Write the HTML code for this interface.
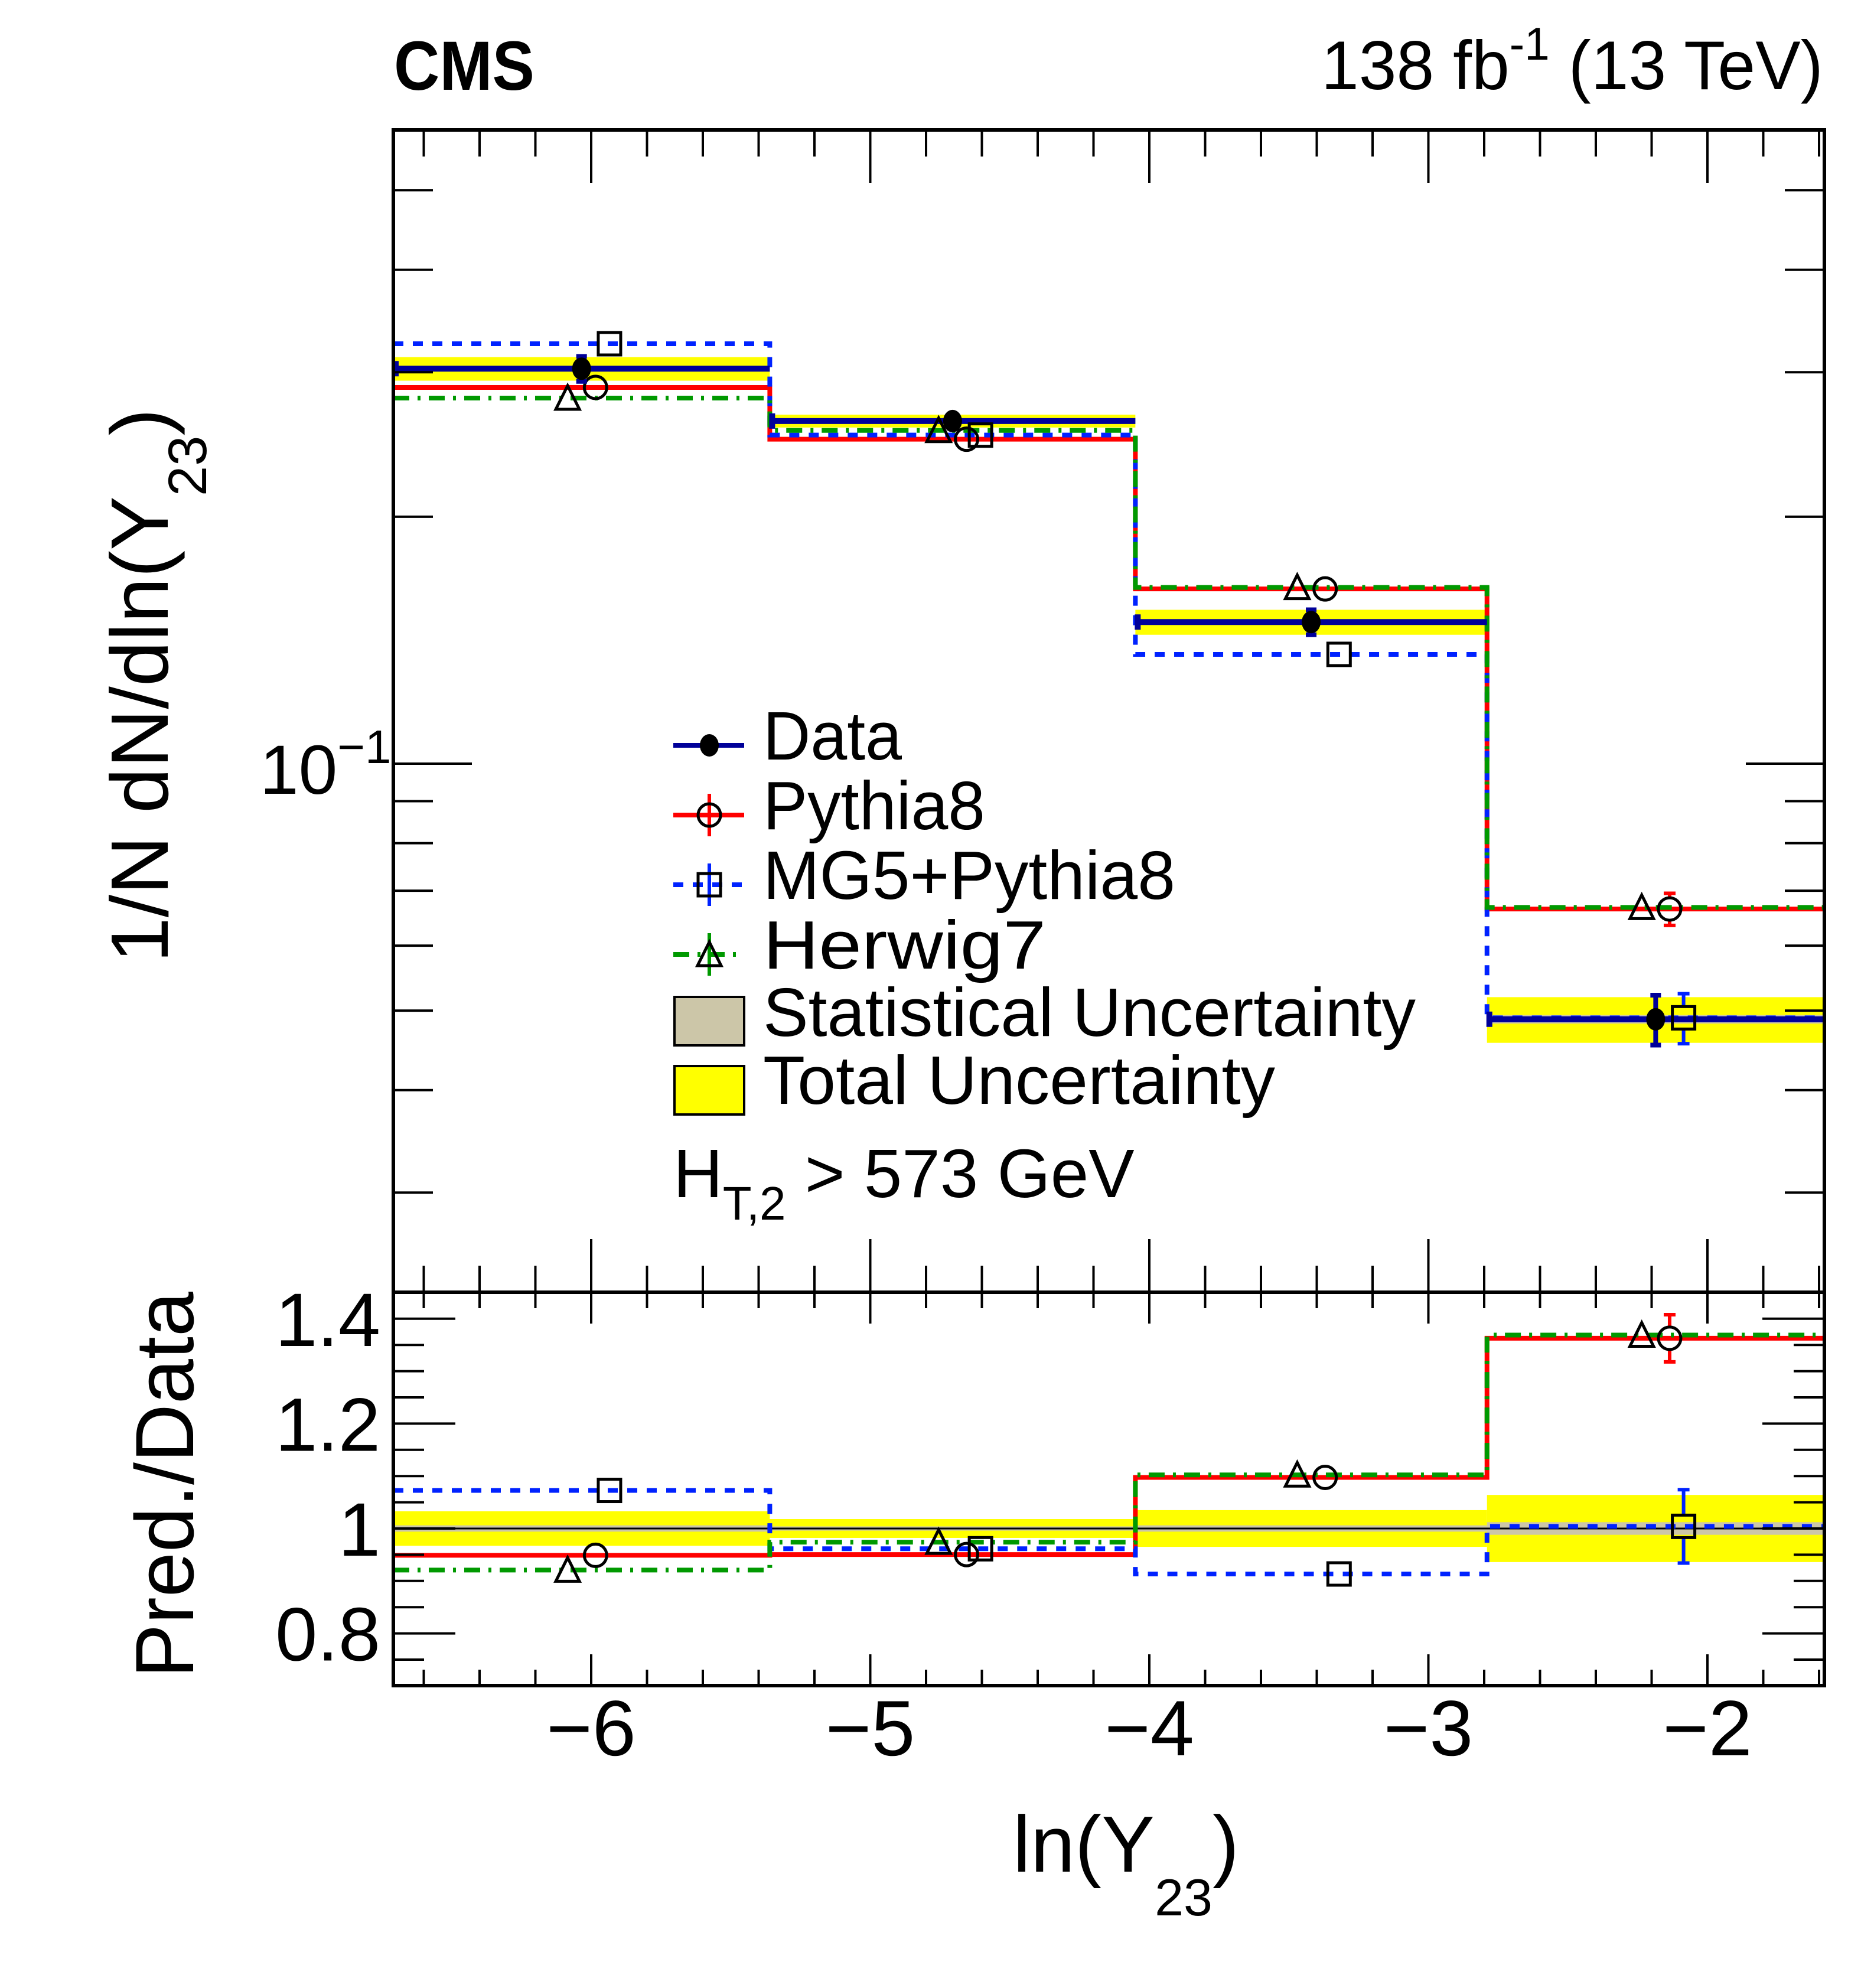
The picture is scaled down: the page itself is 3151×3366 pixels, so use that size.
<!DOCTYPE html>
<html><head><meta charset="utf-8">
<style>
html,body{margin:0;padding:0;background:#fff;}
svg{display:block;font-family:"Liberation Sans",Arial,sans-serif;}
</style></head>
<body>
<svg id="chart" xmlns="http://www.w3.org/2000/svg" width="3151" height="3366" viewBox="0 0 3151 3366">
<rect x="0" y="0" width="3151" height="3366" fill="#fff"/>
<g id="bands"></g>
<g id="series"></g>
<g id="axes"></g>
<text x="667" y="152" font-size="118" font-weight="bold" textLength="238" lengthAdjust="spacingAndGlyphs">CMS</text>
<text transform="translate(2237,151) scale(0.98,1)" font-size="117"><tspan>138 fb</tspan><tspan dy="-50" font-size="78">-1</tspan><tspan dy="50"> (13 TeV)</tspan></text>
<text transform="translate(284,1630) rotate(-90)" font-size="138"><tspan>1/N dN/dln(Y</tspan><tspan dy="65" font-size="92">23</tspan><tspan dy="-65">)</tspan></text>
<text transform="translate(327,2841) rotate(-90)" font-size="140" textLength="654" lengthAdjust="spacingAndGlyphs">Pred./Data</text>
<text x="1715" y="3169" font-size="135"><tspan>ln(Y</tspan><tspan dy="74" font-size="88">23</tspan><tspan dy="-74">)</tspan></text>
<g id="legend"></g>
</svg>
<script>
// ---- data ----
const binEdges = [-6.709, -5.36, -4.05, -2.79, -1.581];
const dataValues = [0.303, 0.2616, 0.1488, 0.0488];
const dataRelErr = [0.035, 0.02, 0.035, 0.07];
const totalRelUnc = [0.033, 0.018, 0.035, 0.064];
const statRelUnc = [0.006, 0.004, 0.006, 0.012];
const pythiaValues = [0.2875, 0.2486, 0.1633, 0.0665];
const pythiaRelErr = [0.012, 0.008, 0.012, 0.045];
const mgValues = [0.325, 0.2515, 0.1359, 0.049];
const mgRelErr = [0.008, 0.006, 0.012, 0.07];
const herwigValues = [0.279, 0.2548, 0.1640, 0.0668];
const herwigRelErr = [0.005, 0.004, 0.006, 0.01];
const xMajorTicks = [-6, -5, -4, -3, -2];
const xTickLabels = ["\u22126", "\u22125", "\u22124", "\u22123", "\u22122"];
const ratioTicks = [0.8, 1.0, 1.2, 1.4];
const mainMinorTicks = [0.03, 0.04, 0.05, 0.06, 0.07, 0.08, 0.09, 0.2, 0.3, 0.4, 0.5];

// ---- geometry ----
const L = 666, R = 3089, T = 220, D = 2188, B = 2854;
function X(v){ return 1001 + (v + 6) * 472.5; }
function Y(v){ return 1293 - Math.log10(v / 0.1) * 1389; }
function RY(v){ return 2588 - (v - 1) * 888; }
const NS = "http://www.w3.org/2000/svg";
function mk(parent, tag, attrs){ const e = document.createElementNS(NS, tag); for (const k in attrs) e.setAttribute(k, attrs[k]); parent.appendChild(e); return e; }
const gB = document.getElementById("bands"), gS = document.getElementById("series"), gA = document.getElementById("axes"), gL = document.getElementById("legend");

const models = [
  {name:"pythia8", vals:pythiaValues, err:pythiaRelErr, color:"#ff0000", dash:"", off:0.05, marker:"circle"},
  {name:"mg5-pythia8", vals:mgValues, err:mgRelErr, color:"#0022ff", dash:"17 16", off:0.10, marker:"square"},
  {name:"herwig7", vals:herwigValues, err:herwigRelErr, color:"#009900", dash:"27 14 5 14", off:-0.05, marker:"triangle"}
];

function drawMarker(parent, type, cx, cy, label){
  let e;
  if (type === "circle") e = mk(parent, "circle", {cx:cx, cy:cy, r:19, fill:"none", stroke:"#000", "stroke-width":5});
  else if (type === "square") e = mk(parent, "rect", {x:cx-19, y:cy-19, width:38, height:38, fill:"none", stroke:"#000", "stroke-width":5});
  else if (type === "triangle") e = mk(parent, "polygon", {points:(cx-20)+","+(cy+19)+" "+(cx+20)+","+(cy+19)+" "+cx+","+(cy-21), fill:"none", stroke:"#000", "stroke-width":5});
  else e = mk(parent, "ellipse", {cx:cx, cy:cy, rx:16, ry:19, fill:"#000"});
  
  
  return e;
}

// ---- bands ----
for (let i = 0; i < dataValues.length; i++){
  const x0 = X(binEdges[i]), x1 = X(binEdges[i+1]);
  const d = dataValues[i];
  let r = mk(gB, "rect", {x:x0, y:Y(d*(1+totalRelUnc[i])), width:x1-x0, height:Y(d*(1-totalRelUnc[i]))-Y(d*(1+totalRelUnc[i])), fill:"#ffff00"});
  
  
  r = mk(gB, "rect", {x:x0, y:Y(d*(1+statRelUnc[i])), width:x1-x0, height:Y(d*(1-statRelUnc[i]))-Y(d*(1+statRelUnc[i])), fill:"#ccc6a8"});
  
  
  r = mk(gB, "rect", {x:x0, y:RY(1+totalRelUnc[i]), width:x1-x0, height:RY(1-totalRelUnc[i])-RY(1+totalRelUnc[i]), fill:"#ffff00"});
  
  
  r = mk(gB, "rect", {x:x0, y:RY(1+statRelUnc[i]), width:x1-x0, height:RY(1-statRelUnc[i])-RY(1+statRelUnc[i]), fill:"#ccc6a8"});
  
  
}
let unity = mk(gB, "line", {x1:L, x2:R, y1:RY(1), y2:RY(1), stroke:"#000", "stroke-width":3});



// ---- model histograms ----
function stepPath(vals, fy){
  let p = "";
  for (let i = 0; i < vals.length; i++){
    const y = fy(vals[i]);
    p += (i === 0 ? "M" + X(binEdges[0]) + "," + y : "L" + X(binEdges[i]) + "," + y) + " L" + X(binEdges[i+1]) + "," + y + " ";
  }
  return p;
}
models.forEach(m => {
  let p = mk(gS, "path", {d:stepPath(m.vals, Y), fill:"none", stroke:m.color, "stroke-width":8, "stroke-dasharray":m.dash});
  
  
  const ratios = m.vals.map((v, i) => v / dataValues[i]);
  p = mk(gS, "path", {d:stepPath(ratios, RY), fill:"none", stroke:m.color, "stroke-width":8, "stroke-dasharray":m.dash});
  
  
});
// data histogram line
for (let i = 0; i < dataValues.length; i++){
  const y = Y(dataValues[i]);
  let l = mk(gS, "line", {x1:X(binEdges[i]), x2:X(binEdges[i+1]), y1:y, y2:y, stroke:"#000099", "stroke-width":10});
  
  
  l = mk(gS, "line", {x1:X(binEdges[i])+4, x2:X(binEdges[i])+4, y1:y-13, y2:y+13, stroke:"#000099", "stroke-width":10});
  
  
}
// model markers & errors
models.forEach(m => {
  for (let i = 0; i < m.vals.length; i++){
    const c = (binEdges[i] + binEdges[i+1]) / 2 + m.off;
    const cx = X(c), v = m.vals[i], rr = v / dataValues[i];
    [[Y(v*(1+m.err[i])), Y(v*(1-m.err[i])), Y(v), 'main'], [RY(rr+m.err[i]), RY(rr-m.err[i]), RY(rr), 'ratio']].forEach(s => {
      if (s[1] - s[0] > 44){
        let e = mk(gS, "path", {d:"M"+cx+","+s[0]+" V"+(s[2]-20)+" M"+cx+","+(s[2]+20)+" V"+s[1]+" M"+(cx-10)+","+s[0]+" H"+(cx+10)+" M"+(cx-10)+","+s[1]+" H"+(cx+10), stroke:m.color, "stroke-width":6, fill:"none"});
        
        
      }
      drawMarker(gS, m.marker, cx, s[2], m.name + '-' + s[3] + '-marker-bin' + (i+1));
    });
  }
});
// data markers
for (let i = 0; i < dataValues.length; i++){
  const cx = X((binEdges[i] + binEdges[i+1]) / 2), v = dataValues[i];
  const y0 = Y(v*(1+dataRelErr[i])), y1 = Y(v*(1-dataRelErr[i]));
  let e = mk(gS, "path", {d:"M"+cx+","+y0+" V"+y1+" M"+(cx-9)+","+y0+" H"+(cx+9)+" M"+(cx-9)+","+y1+" H"+(cx+9), stroke:"#000099", "stroke-width":8, fill:"none"});
  
  
  drawMarker(gS, "dot", cx, Y(v), 'data-point-bin' + (i+1));
}

// ---- axes ----
function line(x1,y1,x2,y2,w,name){ const l = mk(gA, "line", {x1:x1, y1:y1, x2:x2, y2:y2, stroke:"#000", "stroke-width":w});
  
   return l; }
let fr = mk(gA, "rect", {x:L, y:T, width:R-L, height:D-T, fill:"none", stroke:"#000", "stroke-width":6});


fr = mk(gA, "rect", {x:L, y:D, width:R-L, height:B-D, fill:"none", stroke:"#000", "stroke-width":6});


for (let k = -33; k <= -8; k++){
  const v = k / 5, x = X(v);
  if (x < L + 3 || x > R - 2) continue;
  const major = Math.abs(v - Math.round(v)) < 1e-6;
  line(x, T, x, T + (major ? 90 : 45), 4, 'main-top-xtick');
  line(x, D, x, D - (major ? 90 : 45), 4, 'main-bottom-xtick');
  line(x, D, x, D + (major ? 53 : 27), 4, 'ratio-top-xtick');
  line(x, B, x, B - (major ? 53 : 27), 4, 'ratio-bottom-xtick');
}
xMajorTicks.forEach((v, i) => {
  const t = mk(gA, "text", {x:X(v), y:2972, "font-size":133, "text-anchor":"middle"});
  t.textContent = xTickLabels[i];
  
  
});
line(L, Y(0.1), L + 133, Y(0.1), 4, 'main-ytick-major');
line(R, Y(0.1), R - 133, Y(0.1), 4, 'main-ytick-major-right');
mainMinorTicks.forEach(v => {
  line(L, Y(v), L + 67, Y(v), 4, 'main-ytick-minor');
  line(R, Y(v), R - 67, Y(v), 4, 'main-ytick-minor-right');
});
let yl = mk(gA, "text", {x:440, y:1344, "font-size":118});
yl.innerHTML = '10<tspan dy="-52" font-size="80">\u22121</tspan>';


for (let k = 15; k <= 29; k++){
  const v = k * 0.05, y = RY(v);
  const major = ratioTicks.some(t => Math.abs(t - v) < 1e-6);
  line(L, y, L + (major ? 105 : 52), y, 4, 'ratio-ytick');
  line(R, y, R - (major ? 105 : 52), y, 4, 'ratio-ytick-right');
}
ratioTicks.forEach(v => {
  const t = mk(gA, "text", {x:644, y:RY(v) + 46, "font-size":128, "text-anchor":"end"});
  t.textContent = (v === 1 ? "1" : v.toFixed(1));
  
  
});

// ---- legend ----
const legRows = [
  {label:"Data", y:1262, color:"#000099", dash:"", marker:"dot", tl:235},
  {label:"Pythia8", y:1380, color:"#ff0000", dash:"", marker:"circle", tl:376},
  {label:"MG5+Pythia8", y:1498, color:"#0022ff", dash:"17 16", marker:"square", tl:698},
  {label:"Herwig7", y:1616, color:"#009900", dash:"27 14 5 14", marker:"triangle", tl:479}
];
legRows.forEach(r => {
  let l = mk(gL, "line", {x1:1140, x2:1260, y1:r.y, y2:r.y, stroke:r.color, "stroke-width":8, "stroke-dasharray":r.dash});
  
  
  if (r.marker !== "dot"){
    l = mk(gL, "line", {x1:1201, x2:1201, y1:r.y-36, y2:r.y+36, stroke:r.color, "stroke-width":6});
    
    
  }
  drawMarker(gL, r.marker, 1201, r.y, 'legend-marker-' + r.label.toLowerCase());
  const t = mk(gL, "text", {x:1292, y:r.y + 24, "font-size":116, textLength:r.tl, lengthAdjust:"spacingAndGlyphs"});
  t.textContent = r.label;
  
  
});
let bx = mk(gL, "rect", {x:1142, y:1688, width:118, height:82, fill:"#ccc6a8", stroke:"#000", "stroke-width":4});


bx = mk(gL, "rect", {x:1142, y:1805, width:118, height:82, fill:"#ffff00", stroke:"#000", "stroke-width":4});


let lt = mk(gL, "text", {x:1292, y:1754, "font-size":116, textLength:1105, lengthAdjust:"spacingAndGlyphs"});
lt.textContent = "Statistical Uncertainty";


lt = mk(gL, "text", {x:1292, y:1869, "font-size":116, textLength:867, lengthAdjust:"spacingAndGlyphs"});
lt.textContent = "Total Uncertainty";


lt = mk(gL, "text", {x:1140, y:2027, "font-size":116});
lt.innerHTML = 'H<tspan dy="38" font-size="80">T,2</tspan><tspan dy="-38"> &gt; 573 GeV</tspan>';


</script>
</body></html>
